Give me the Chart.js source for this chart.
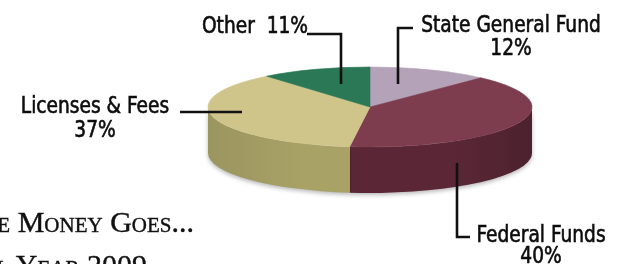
<!DOCTYPE html>
<html>
<head>
<meta charset="utf-8">
<script src="https://cdn.jsdelivr.net/npm/chart.js@4.4.1/dist/chart.umd.min.js"></script>
<style>
    html, body { margin: 0; padding: 0; background: #fff; overflow: hidden; }
    #wrap { position: relative; width: 618px; height: 264px; overflow: hidden; }
    #pie { position: absolute; left: 0; top: 0; }
    .title {
        position: absolute;
        font-family: 'Liberation Serif', 'DejaVu Serif', serif;
        font-variant: small-caps;
        font-size: 30px;
        line-height: 30px;
        white-space: nowrap;
        color: #111;
        -webkit-text-stroke: 0.4px #111;
    }
</style>
</head>
<body>
<div id="wrap">
    <canvas id="pie" width="618" height="264"></canvas>
    <div class="title" style="right: 424px; top: 207px;">Where the Money Goes...</div>
    <div class="title" style="right: 471px; top: 250px;">Fiscal Year 2009</div>
</div>
<script>
// data
const categories = ['State General Fund', 'Federal Funds', 'Licenses & Fees', 'Other'];
const shares = [12, 40, 37, 11];

// colours of the top face and of the side wall
const topColors = ['#b4a3b8', '#7d3d4f', '#cfc48a', '#2b7856'];
const sideColors = ['#8d7c91', '#5b2736', '#a9a267', '#1e573e'];

// pie shape
const SQUASH = 40 / 162;   // top face height / width
const DEPTH = 46;          // thickness of the pie
const LABEL_FONT = "23px 'Liberation Sans Narrow', 'DejaVu Sans Condensed', 'Arial Narrow', sans-serif";
const LABEL_STRETCH = 0.9; // narrower lettering, like the original

// where the callouts sit (same order as categories)
const callouts = [
    { x: 511, y: 32, gap: 23, leader: [[413, 28], [398, 28], [398, 84]] },
    { x: 541, y: 242, gap: 21, leader: [[470, 237], [457, 237], [457, 163]] },
    { x: 95, y: 113, gap: 24, leader: [[180, 112], [242, 112]] },
    { x: 255, y: 33, inline: true, leader: [[307, 34], [341, 34], [341, 84]] }
];

function shade(hex, f) {
    const n = parseInt(hex.slice(1), 16);
    const r = Math.round(((n >> 16) & 255) * f);
    const g = Math.round(((n >> 8) & 255) * f);
    const b = Math.round((n & 255) * f);
    return `rgb(${Math.min(r, 255)}, ${Math.min(g, 255)}, ${Math.min(b, 255)})`;
}

// draws the side wall, then squashes the pie that chart.js draws
const pie3d = {
    id: 'pie3d',
    beforeDatasetsDraw(chart) {
        const ctx = chart.ctx;
        const arcs = chart.getDatasetMeta(0).data;
        const { x, y, outerRadius: r } = arcs[0];
        const ry = r * SQUASH;

        ctx.save();
        ctx.shadowColor = 'rgba(0, 0, 0, 0.28)';
        ctx.shadowBlur = 4;
        ctx.shadowOffsetY = 2;
        arcs.forEach((arc, i) => {
            const a0 = Math.max(arc.startAngle, 0);
            const a1 = Math.min(arc.endAngle, Math.PI);
            if (a1 <= a0) return;
            const g = ctx.createLinearGradient(x - r, 0, x + r, 0);
            g.addColorStop(0, shade(sideColors[i], 0.92));
            g.addColorStop(0.3, sideColors[i]);
            g.addColorStop(0.75, sideColors[i]);
            g.addColorStop(1, shade(sideColors[i], 0.85));
            ctx.beginPath();
            ctx.ellipse(x, y, r, ry, 0, a0, a1);
            ctx.ellipse(x, y + DEPTH, r, ry, 0, a1, a0, true);
            ctx.closePath();
            ctx.fillStyle = g;
            ctx.fill();
        });
        ctx.restore();

        ctx.save();
        ctx.translate(x, y);
        ctx.scale(1, SQUASH);
        ctx.translate(-x, -y);
    },
    afterDatasetsDraw(chart) {
        chart.ctx.restore();
    }
};

const calloutPlugin = {
    id: 'callouts',
    afterDraw(chart) {
        const ctx = chart.ctx;
        ctx.save();
        ctx.strokeStyle = '#111';
        ctx.lineWidth = 2.6;
        ctx.fillStyle = '#0d0d0d';
        ctx.font = LABEL_FONT;
        ctx.textAlign = 'center';
        callouts.forEach((c, i) => {
            const lines = c.inline
                ? [categories[i] + '  ' + shares[i] + '%']
                : [categories[i], shares[i] + '%'];
            lines.forEach((t, j) => {
                ctx.save();
                ctx.translate(c.x, c.y + j * (c.gap || 0));
                ctx.scale(LABEL_STRETCH, 1);
                ctx.lineWidth = 0.6;
                ctx.strokeStyle = '#0d0d0d';
                ctx.fillText(t, 0, 0);
                ctx.strokeText(t, 0, 0);
                ctx.restore();
            });
            ctx.beginPath();
            c.leader.forEach(([px, py], k) => k ? ctx.lineTo(px, py) : ctx.moveTo(px, py));
            ctx.stroke();
        });
        ctx.restore();
    }
};

new Chart(document.getElementById('pie'), {
    type: 'pie',
    data: {
        labels: categories,
        datasets: [{
            data: shares,
            backgroundColor: topColors,
            borderColor: topColors,
            borderWidth: 1,
            radius: 162,
            clip: false
        }]
    },
    options: {
        responsive: false,
        animation: false,
        events: [],
        layout: { padding: { left: 122, right: 0, top: 0, bottom: 50 } },
        plugins: {
            legend: { display: false },
            tooltip: { enabled: false }
        }
    },
    plugins: [pie3d, calloutPlugin]
});
</script>
</body>
</html>
